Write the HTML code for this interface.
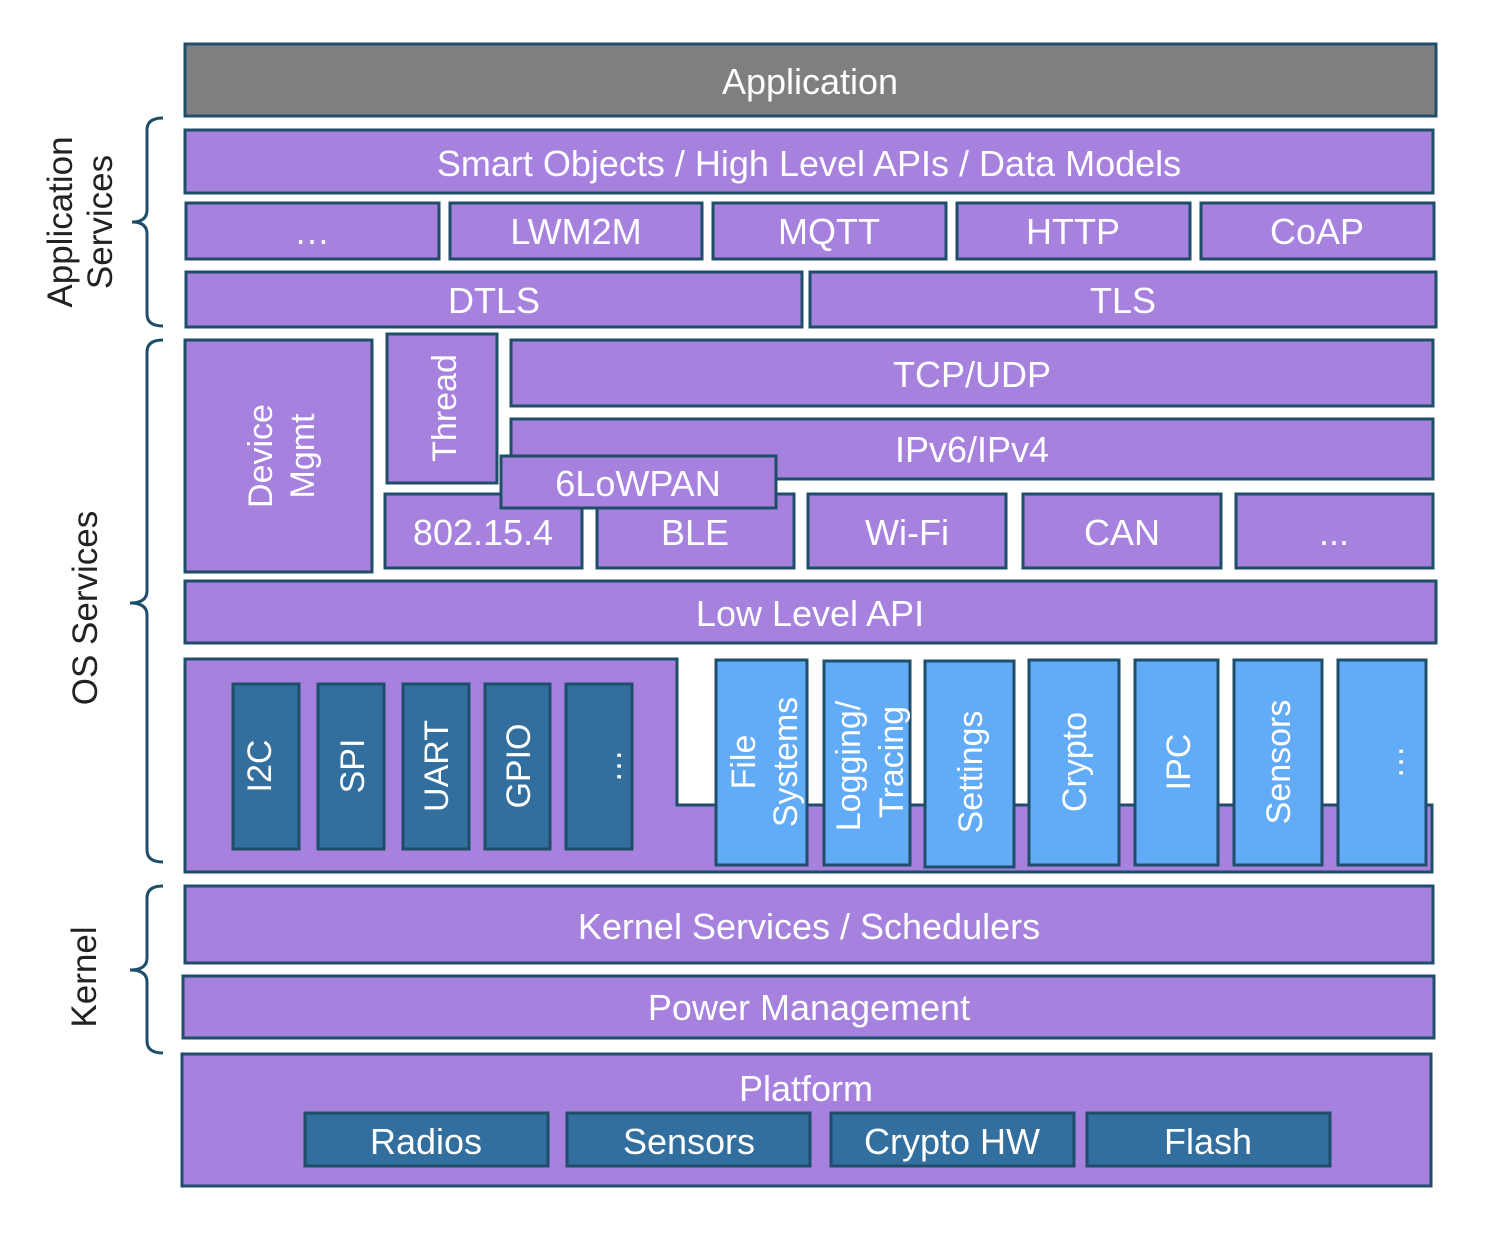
<!DOCTYPE html>
<html><head><meta charset="utf-8"><style>body{margin:0;background:#fff}svg{display:block}</style></head><body>
<svg width="1498" height="1242" viewBox="0 0 1498 1242" xmlns="http://www.w3.org/2000/svg" font-family="Liberation Sans, sans-serif">
<g stroke="#1f4e6b" stroke-width="3">
<rect x="185" y="44" width="1251" height="72" fill="#7f7f7f"/>
<g fill="#a681de">
<rect x="185" y="130" width="1248" height="63"/>
<rect x="186" y="203" width="253" height="56"/>
<rect x="450" y="203" width="252" height="56"/>
<rect x="713" y="203" width="233" height="56"/>
<rect x="957" y="203" width="233" height="56"/>
<rect x="1201" y="203" width="233" height="56"/>
<rect x="186" y="272" width="616" height="55"/>
<rect x="810" y="272" width="626" height="55"/>
<rect x="185" y="340" width="187" height="232"/>
<rect x="387" y="334" width="110" height="149"/>
<rect x="511" y="340" width="922" height="66"/>
<rect x="511" y="419" width="922" height="60"/>
<rect x="385" y="494" width="197" height="74"/>
<rect x="597" y="494" width="197" height="74"/>
<rect x="808" y="494" width="198" height="74"/>
<rect x="1023" y="494" width="198" height="74"/>
<rect x="1236" y="494" width="197" height="74"/>
<rect x="501" y="456" width="275" height="52"/>
<rect x="185" y="581" width="1251" height="62"/>
<polygon points="185,659 677,659 677,805 1432,805 1432,872 185,872"/>
<rect x="185" y="886" width="1248" height="77"/>
<rect x="183" y="976" width="1251" height="62"/>
<rect x="182" y="1054" width="1249" height="132"/>
</g>
<g fill="#336f9e">
<rect x="233" y="684" width="66" height="165"/>
<rect x="318" y="684" width="66" height="165"/>
<rect x="403" y="684" width="66" height="165"/>
<rect x="485" y="684" width="65" height="165"/>
<rect x="566" y="684" width="66" height="165"/>
<rect x="305" y="1113" width="243" height="53"/>
<rect x="567" y="1113" width="243" height="53"/>
<rect x="831" y="1113" width="243" height="53"/>
<rect x="1087" y="1113" width="243" height="53"/>
</g>
<g fill="#62abf6">
<rect x="716" y="660" width="91" height="205"/>
<rect x="824" y="661" width="86" height="204"/>
<rect x="925" y="661" width="89" height="206"/>
<rect x="1029" y="660" width="90" height="205"/>
<rect x="1135" y="660" width="83" height="205"/>
<rect x="1234" y="660" width="88" height="205"/>
<rect x="1338" y="660" width="88" height="205"/>
</g>
</g>
<g fill="none" stroke="#1f4e6b" stroke-width="3">
<path d="M163,118 Q147,118 147,130 L147,210 Q147,222 132,222 Q147,222 147,234 L147,314 Q147,326 163,326"/>
<path d="M163,340 Q147,340 147,352 L147,591 Q147,603 130,603 Q147,603 147,615 L147,850 Q147,862 163,862"/>
<path d="M163,886 Q147,886 147,898 L147,958 Q147,970 130,970 Q147,970 147,982 L147,1041 Q147,1053 163,1053"/>
</g>
<g fill="#fff" font-size="36" text-anchor="middle">
<text x="810" y="94">Application</text>
<text x="809" y="176">Smart Objects / High Level APIs / Data Models</text>
<text x="312" y="244">…</text>
<text x="576" y="244">LWM2M</text>
<text x="829" y="244">MQTT</text>
<text x="1073" y="244">HTTP</text>
<text x="1317" y="244">CoAP</text>
<text x="494" y="313">DTLS</text>
<text x="1123" y="313">TLS</text>
<text x="972" y="387">TCP/UDP</text>
<text x="972" y="462">IPv6/IPv4</text>
<text x="483" y="545">802.15.4</text>
<text x="695" y="545">BLE</text>
<text x="907" y="545">Wi-Fi</text>
<text x="1122" y="545">CAN</text>
<text x="1334" y="545">...</text>
<text x="638" y="496">6LoWPAN</text>
<text x="810" y="626">Low Level API</text>
<text x="809" y="939">Kernel Services / Schedulers</text>
<text x="809" y="1020">Power Management</text>
<text x="806" y="1101">Platform</text>
<text x="426" y="1154">Radios</text>
<text x="689" y="1154">Sensors</text>
<text x="952" y="1154">Crypto HW</text>
<text x="1208" y="1154">Flash</text>
</g>
<g fill="#fff" font-size="34" text-anchor="middle">
<text transform="translate(271,766) rotate(-90)">I2C</text>
<text transform="translate(364,766) rotate(-90)">SPI</text>
<text transform="translate(448,766) rotate(-90)">UART</text>
<text transform="translate(530,766) rotate(-90)">GPIO</text>
<text transform="translate(621,766) rotate(-90)">…</text>
<text transform="translate(755,762) rotate(-90)">File</text>
<text transform="translate(797,762) rotate(-90)">Systems</text>
<text transform="translate(860,766) rotate(-90)">Logging/</text>
<text transform="translate(903,762) rotate(-90)">Tracing</text>
<text transform="translate(982,772) rotate(-90)">Settings</text>
<text transform="translate(1086,762) rotate(-90)">Crypto</text>
<text transform="translate(1190,762) rotate(-90)">IPC</text>
<text transform="translate(1290,762) rotate(-90)">Sensors</text>
<text transform="translate(1403,762) rotate(-90)">…</text>
<text transform="translate(272,456) rotate(-90)">Device</text>
<text transform="translate(314,456) rotate(-90)">Mgmt</text>
<text transform="translate(456,408) rotate(-90)">Thread</text>
</g>
<g fill="#222" font-size="35" text-anchor="middle">
<text transform="translate(72,222) rotate(-90)">Application</text>
<text transform="translate(112,222) rotate(-90)">Services</text>
<text transform="translate(97,608) rotate(-90)">OS Services</text>
<text transform="translate(96,977) rotate(-90)">Kernel</text>
</g>
</svg>
</body></html>
